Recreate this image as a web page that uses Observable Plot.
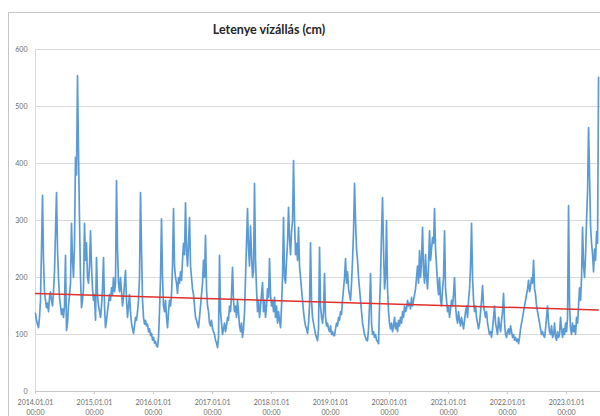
<!DOCTYPE html>
<html><head><meta charset="utf-8">
<script src="https://cdn.jsdelivr.net/npm/d3@7"></script>
<script src="https://cdn.jsdelivr.net/npm/@observablehq/plot@0.6"></script>
<style>
body{margin:0;background:#fff;}
#wrap{position:relative;width:600px;height:416px;overflow:hidden;}
#wrap svg{position:absolute;left:0;top:0;}
#frame{position:absolute;left:8px;top:12px;width:600px;height:420px;border-top:1px solid #c4c4c4;border-left:1px solid #c4c4c4;z-index:2;}
#title{position:absolute;left:0;width:538px;top:22px;text-align:center;font:bold 12.5px Lato,sans-serif;color:#262626;z-index:3;}
</style></head>
<body><div id="wrap"><div id="frame"></div><div id="title">Letenye vízállás (cm)</div></div>
<script>
// Water level samples (cm), one every ~6.19 days from 2014-01-01
const sampleStart = "2014-01-01";
const sampleStepHours = 148.56;
const levels = [
  // 2014
  137,125,118,112,130,160,250,344,230,175, 160,147,155,140,165,175,160,150,175,210,
  280,349,250,200,165,150,135,145,130,150, 239,107,120,150,170,190,295,230,200,260,
  411,380,554,420,300,200,147,160,180,295, 230,261,200,190,220,282,220,180,160,170,
  // 2015
  125,235,170,150,140,130,150,180,235,150, 112,125,140,155,170,160,182,170,200,175,
  190,370,250,190,175,200,175,150,165,190, 212,160,130,150,170,140,120,110,102,115,
  130,125,140,160,200,349,250,160,130,118, 125,115,118,105,110,98,102,90,95,
  // 2016
  85,88,80,78,95,140,200,303,200,150, 140,160,130,112,140,160,150,170,220,321,
  220,200,190,172,200,190,210,195,230,260, 240,331,250,220,260,305,220,200,180,170,
  150,130,125,118,112,130,150,170,190,230, 200,274,180,150,140,120,115,125,110,105,
  // 2017
  100,90,85,77,95,239,140,120,100,110, 120,105,115,130,125,150,140,170,218,160,
  140,150,130,160,140,115,105,120,95,110, 140,200,260,321,250,220,290,240,200,210,
  365,230,180,140,160,130,150,170,191,140, 160,130,150,180,165,233,170,150,160,
  // 2018
  140,165,130,150,120,140,125,112,150,200, 305,200,190,230,260,323,270,240,280,300,
  405,300,240,260,230,288,220,200,180,160, 140,125,115,110,102,120,150,261,160,130,
  120,110,100,95,89,110,253,150,130,120, 140,207,130,115,120,110,105,115,100,
  // 2019
  105,98,98,110,120,115,130,125,140,135, 160,180,200,233,190,210,180,170,160,190,
  230,280,365,300,250,230,200,180,160,140, 120,110,100,95,90,89,110,150,207,120,
  100,105,95,100,90,88,84,150,200,280, 340,250,180,200,300,180,140,120,110,
  // 2020
  120,105,115,130,110,120,105,125,115,130, 120,140,130,150,140,145,160,150,155,145,
  165,150,160,170,180,200,220,190,247,200, 230,288,210,190,240,200,180,220,282,230,
  250,270,260,321,250,220,190,170,200,160, 150,180,200,282,180,160,140,150,130,
  // 2021
  145,160,150,170,200,150,130,120,140,125, 115,130,120,110,125,140,150,130,160,180,
  220,295,200,160,140,150,130,120,110,120, 140,160,186,150,140,130,140,120,110,100,
  105,95,110,130,150,120,110,100,130,115, 105,125,140,172,120,100,95,105,
  // 2022
  110,100,115,105,95,100,90,95,88,92, 84,95,110,120,130,140,150,160,170,180,
  195,175,185,200,190,230,180,170,150,140, 130,120,110,100,105,98,95,110,130,150,
  120,105,100,115,95,100,120,95,90,105, 95,100,130,110,95,110,100,120,105,
  // 2023
  130,326,150,110,100,120,105,115,100,130, 120,150,182,160,200,288,220,200,240,300,
  350,463,380,290,260,240,210,250,230,280, 260,551
];
const trendDates = ["2014-01-01", "2023-07-16"];
const trendValues = [172, 143];
const xTickDates = ["2014-01-01","2015-01-01","2016-01-01","2017-01-01","2018-01-01",
                    "2019-01-01","2020-01-01","2021-01-01","2022-01-01","2023-01-01"];
const yTicks = [0, 100, 200, 300, 400, 500, 600];
const xDomain = ["2014-01-01", "2023-07-30"];

const t0 = new Date(sampleStart + "T00:00:00Z").getTime();
const series = levels.map((v, i) => ({date: new Date(t0 + i * sampleStepHours * 3600e3), value: v}));
const trend = trendDates.map((d, i) => ({date: new Date(d + "T00:00:00Z"), value: trendValues[i]}));
const ticks = xTickDates.map(d => new Date(d + "T00:00:00Z"));
const fmt = d3.utcFormat("%Y.%m.%d\n%H:%M");

const chart = Plot.plot({
  width: 600, height: 416,
  marginLeft: 35, marginRight: 0, marginTop: 49, marginBottom: 25,
  style: {fontFamily: "Lato, 'Open Sans', sans-serif", background: "transparent"},
  x: {type: "utc", domain: xDomain.map(d => new Date(d + "T00:00:00Z")), label: null},
  y: {domain: [0, 600], label: null},
  marks: [
    Plot.ruleY(yTicks.filter(v => v > 0), {stroke: "#d9d9d9", strokeWidth: 1}),
    Plot.ruleY([0], {stroke: "#c8c8c8"}),
    Plot.ruleX([ticks[0]], {stroke: "#d9d9d9"}),
    Plot.axisY({ticks: yTicks, tickSize: 0, tickPadding: 8, fontSize: 7, fill: "#6a6a6a", label: null}),
    Plot.axisX({ticks: ticks, tickFormat: fmt, tickSize: 3, tickPadding: 4, fontSize: 7,
                lineHeight: 1.4, stroke: "#c8c8c8", fill: "#6a6a6a", label: null}),
    Plot.line(series, {x: "date", y: "value", stroke: "#5b9bd5", strokeWidth: 1.7}),
    Plot.line(trend, {x: "date", y: "value", stroke: "#e0302a", strokeWidth: 1.5})
  ]
});
document.getElementById("wrap").prepend(chart);
</script>
</body></html>
